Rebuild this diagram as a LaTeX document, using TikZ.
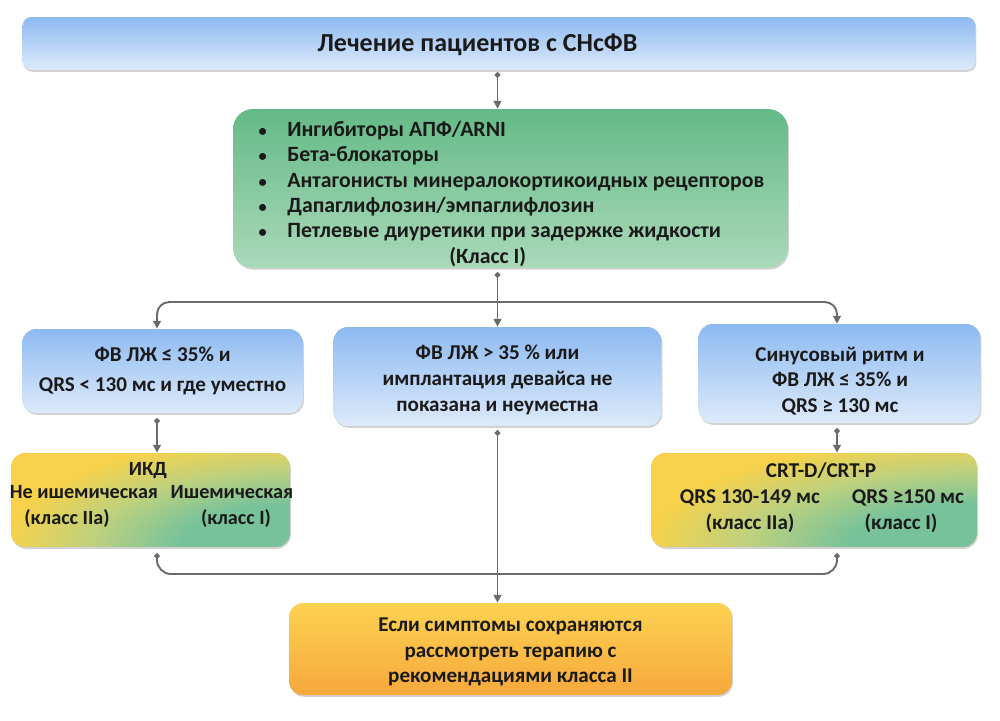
\documentclass[tikz,border=0pt]{standalone}
\usepackage{fontspec}
\setmainfont{Carlito}
\usetikzlibrary{arrows.meta,shadows,calc}
\definecolor{txt}{HTML}{1A1A1A}
\definecolor{blueT}{HTML}{8DBAF1}
\definecolor{blueB}{HTML}{DDEAFA}
\definecolor{greenT}{HTML}{64BA87}
\definecolor{greenB}{HTML}{AAD9B9}
\definecolor{ylw}{HTML}{F7D24A}
\definecolor{ygrn}{HTML}{BED17E}
\definecolor{grn}{HTML}{78C29A}
\definecolor{orT}{HTML}{FDD251}
\definecolor{orB}{HTML}{F6A83B}
\definecolor{linec}{HTML}{6B6B6B}
\pgfdeclareradialshading{ygrad}{\pgfpoint{0bp}{0bp}}{color(0bp)=(grn); color(9bp)=(grn); color(16bp)=(ygrn); color(23bp)=(ylw); color(25bp)=(ylw); color(50bp)=(ylw)}
\tikzset{
  box/.style={inner sep=0pt, align=center, text=txt,
    font=\bfseries\fontsize{12}{14.7}\selectfont,
    drop shadow={shadow xshift=0.5pt, shadow yshift=-1pt, opacity=0.18, fill=black}},
  bluebox/.style={box, rounded corners=8pt, top color=blueT, bottom color=blueB},
  greenbox/.style={box, rounded corners=0.4cm, top color=greenT, bottom color=greenB},
  yellowbox/.style={box, rounded corners=8pt, fill=ylw,
    path picture={\shade[shading=ygrad] (path picture bounding box.south east) ellipse [x radius=#1, y radius=2.4cm];}},
  orbox/.style={box, rounded corners=8pt, top color=orT, bottom color=orB},
  intext/.style={inner sep=0pt, align=center, text=txt, font=\bfseries\fontsize{12}{14.7}\selectfont},
  ytext/.style={anchor=base, inner sep=0pt, text=txt, font=\bfseries\fontsize{12}{14}\selectfont},
  ltext/.style={ytext, font=\bfseries\fontsize{11.5}{14}\selectfont},
  conn/.style={draw=linec, line width=1.1pt},
  arr/.style={conn, -{Triangle[length=4.5pt,width=4.5pt]}},
  darr/.style={conn, {Circle[length=3pt]}-{Triangle[length=4.5pt,width=4.5pt]}},
}
\newcommand{\bul}{\makebox[0.61cm][l]{\hspace{1pt}\scalebox{0.75}{•}}}
\begin{document}
\begin{tikzpicture}[x=0.02cm, y=-0.02cm]
\useasboundingbox (0,0) rectangle (1000,720);
\fill[white] (0,0) rectangle (1000,720);

% boxes
\node[bluebox, rounded corners=5pt, minimum width=19.06cm, minimum height=1.06cm] (top) at (499,43.5) {};
\node[intext, font=\bfseries\fontsize{14.8}{18}\selectfont] (title) at (477.5,45) {Лечение пациентов с СНсФВ};

\node[greenbox, minimum width=11.1cm, minimum height=3.18cm] (green) at (510.5,188.5) {};
\node[anchor=north west, inner sep=0pt, align=left, text=txt,
  font=\bfseries\fontsize{12.4}{14.4}\selectfont] (greenlist) at (256.5,121) {%
\bul Ингибиторы АПФ/ARNI\\
\bul Бета-блокаторы\\
\bul Антагонисты минералокортикоидных рецепторов\\
\bul Дапаглифлозин/эмпаглифлозин\\
\bul Петлевые диуретики при задержке жидкости\\
\hspace{3.85cm}(Класс I)};

\node[bluebox, minimum width=5.62cm, minimum height=1.68cm,
  font=\bfseries\fontsize{12}{17}\selectfont] (left) at (162.5,371) {ФВ ЛЖ ≤ 35\% и\\QRS < 130 мс и где уместно};
\node[bluebox, minimum width=6.56cm, minimum height=1.98cm] (mid) at (497.5,376.5) {};
\node[intext] (midtext) at (497.5,380) {ФВ ЛЖ > 35 \% или\\имплантация девайса не\\показана и неуместна};
\node[bluebox, minimum width=5.64cm, minimum height=1.98cm] (right) at (839.5,373.5) {};
\node[intext] (righttext) at (840,381) {Синусовый ритм и\\ФВ ЛЖ ≤ 35\% и\\QRS ≥ 130 мс};

\node[yellowbox=6.2cm, minimum width=5.58cm, minimum height=1.88cm] (leftY) at (150.5,500) {};
\node[ltext] (ikd) at (148,475) {ИКД};
\node[ltext] (nonisch) at (84,498) {Не ишемическая};
\node[ltext] (nonischc) at (67,524) {(класс IIa)};
\node[ltext] (isch) at (232,498) {Ишемическая};
\node[ltext] (ischc) at (236,524) {(класс I)};

\node[yellowbox=7.2cm, minimum width=6.52cm, minimum height=1.88cm] (rightY) at (814,500) {};
\node[ytext] (crt) at (821,477) {CRT-D/CRT-P};
\node[ytext] (qrsa) at (750,503) {QRS 130-149 мс};
\node[ytext] (qrsb) at (908,503) {QRS ≥150 мс};
\node[ytext] (crtc) at (750,529) {(класс IIa)};
\node[ytext] (crtd) at (901,529) {(класс I)};

\node[orbox, minimum width=8.86cm, minimum height=1.84cm] (bottom) at (510.5,649) {};
\node[intext] (bottomtext) at (510.5,652)
  {Если симптомы сохраняются\\рассмотреть терапию с\\рекомендациями класса II};

% connectors
\coordinate (split) at (497.5,302);
\coordinate (merge) at (497.5,574);
\coordinate (lx) at (157,0);
\coordinate (rx) at (837,0);

\draw[darr] ($(top.south -| split)+(0,2)$) -- (green.north -| split);
\draw[conn, {Circle[length=3pt]}-] ($(green.south -| split)+(0,4)$) -- (split);
\draw[arr, rounded corners=7pt] (split) -| (left.north -| lx);
\draw[arr, rounded corners=7pt] (split) -| (right.north -| rx);
\draw[arr] (split) -- (mid.north);
\draw[darr] ($(left.south -| lx)+(0,5)$) -- (leftY.north -| lx);
\draw[darr] ($(right.south -| rx)+(0,5)$) -- (rightY.north -| rx);
\draw[darr] ($(mid.south)+(0,4)$) -- (bottom.north -| mid.south);
\draw[conn, {Circle[length=3pt]}-{Circle[length=3pt]}, rounded corners=8pt]
  ($(leftY.south -| lx)+(0,6)$) |- (merge) -| ($(rightY.south -| rx)+(0,6)$);
\end{tikzpicture}
\end{document}
